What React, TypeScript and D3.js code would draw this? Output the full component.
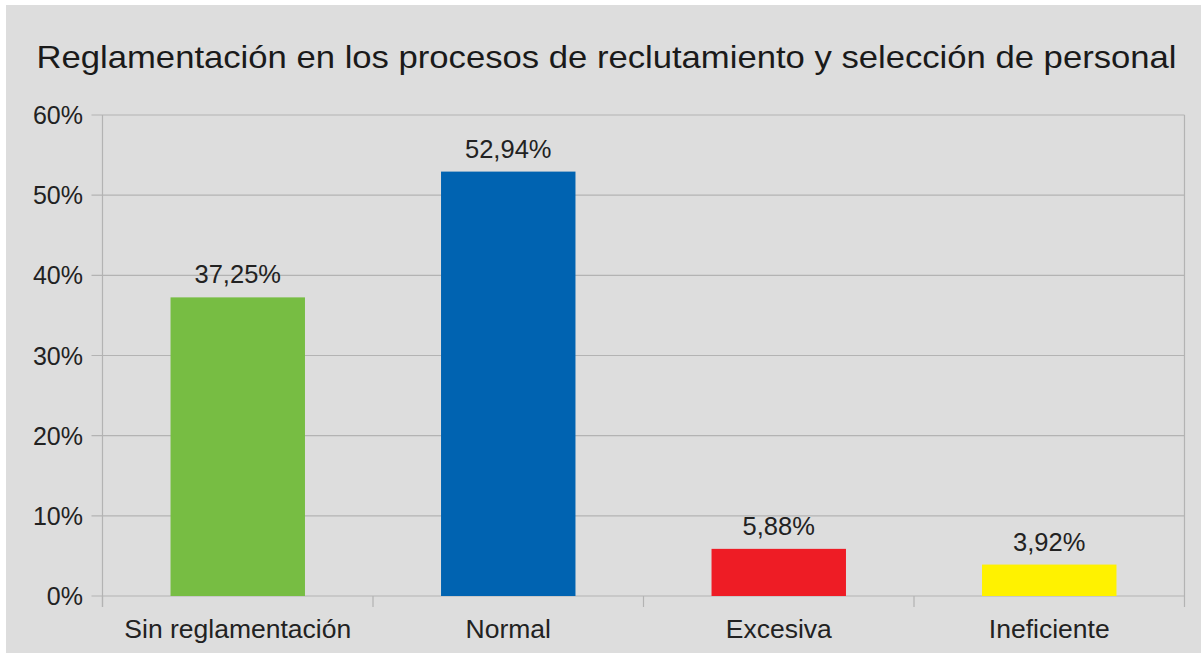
import React, { useEffect, useRef } from "react";
import * as d3 from "d3";

const categories = ["Sin reglamentación", "Normal", "Excesiva", "Ineficiente"];
const values = [37.25, 52.94, 5.88, 3.92];
const valueLabels = ["37,25%", "52,94%", "5,88%", "3,92%"];
const colors = ["#77bd43", "#0063b1", "#ee1c25", "#fff200"];
const yTicks = [0, 10, 20, 30, 40, 50, 60];
const title = "Reglamentación en los procesos de reclutamiento y selección de personal";

const W = 1201;
const H = 653;
const FONT = "'Liberation Sans', Arial, sans-serif";

export default function App() {
  const ref = useRef<SVGSVGElement>(null);

  useEffect(() => {
    const svg = d3.select(ref.current);
    svg.selectAll("*").remove();

    svg.append("rect").attr("x", 0).attr("y", 0).attr("width", W).attr("height", H).attr("fill", "#ffffff");
    svg.append("rect").attr("x", 6).attr("y", 5).attr("width", W - 6).attr("height", H - 5).attr("fill", "#dddddd");

    const left = 102.5, right = 1184.5, top = 115, bottom = 596;
    const x = d3.scaleBand<string>().domain(categories).range([left, right]).paddingInner(0).paddingOuter(0);
    const y = d3.scaleLinear().domain([0, 60]).range([bottom, top]);

    const grid = "#b3b3b3";
    yTicks.forEach((t) => {
      svg.append("line").attr("x1", left - 11).attr("x2", right).attr("y1", y(t)).attr("y2", y(t))
        .attr("stroke", grid).attr("stroke-width", 1.2);
      svg.append("text").attr("x", 83).attr("y", y(t)).attr("dy", "0.36em")
        .attr("text-anchor", "end").attr("font-family", FONT).attr("font-size", 25).attr("fill", "#222")
        .text(`${t}%`);
    });
    svg.append("line").attr("x1", left).attr("x2", left).attr("y1", top).attr("y2", bottom + 11)
      .attr("stroke", grid).attr("stroke-width", 1.2);
    svg.append("line").attr("x1", right).attr("x2", right).attr("y1", top).attr("y2", bottom + 11)
      .attr("stroke", grid).attr("stroke-width", 1.2);
    categories.forEach((c) => {
      const xs = x(c)!;
      svg.append("line").attr("x1", xs).attr("x2", xs).attr("y1", bottom).attr("y2", bottom + 11)
        .attr("stroke", grid).attr("stroke-width", 1.2);
    });

    const bw = x.bandwidth() * 0.497;
    categories.forEach((c, i) => {
      const cx = x(c)! + x.bandwidth() / 2;
      svg.append("rect").attr("x", cx - bw / 2).attr("y", y(values[i])).attr("width", bw)
        .attr("height", y(0) - y(values[i])).attr("fill", colors[i]);
      svg.append("text").attr("x", cx).attr("y", y(values[i]) - 14).attr("text-anchor", "middle")
        .attr("font-family", FONT).attr("font-size", 25.5).attr("fill", "#222").text(valueLabels[i]);
      svg.append("text").attr("x", cx).attr("y", 638).attr("text-anchor", "middle")
        .attr("font-family", FONT).attr("font-size", 26.5).attr("fill", "#222").text(c);
    });

    svg.append("text").attr("x", 36.5).attr("y", 68)
      .attr("textLength", 1140).attr("lengthAdjust", "spacingAndGlyphs")
      .attr("font-family", FONT).attr("font-size", 32).attr("fill", "#1a1a1a").text(title);
  }, []);

  return (
    <div style={{ position: "absolute", left: 0, top: 0 }}>
      <svg ref={ref} width={W} height={H} style={{ display: "block" }} />
    </div>
  );
}
